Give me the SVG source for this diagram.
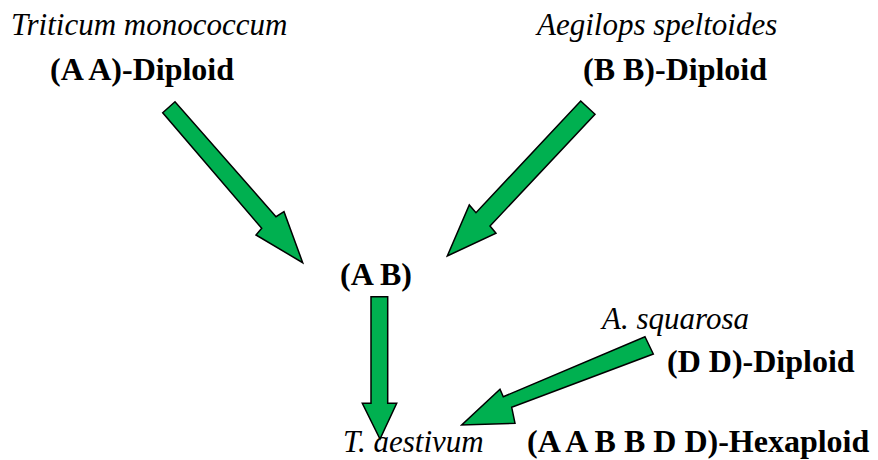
<svg xmlns="http://www.w3.org/2000/svg" width="878" height="460" viewBox="0 0 878 460">
<style>
.i{font-family:"Liberation Serif","Times New Roman",serif;font-style:italic;font-size:31px;fill:#000}
.b{font-family:"Liberation Serif","Times New Roman",serif;font-weight:bold;font-size:32px;fill:#000}
.arr{fill:#00b050;stroke:#000;stroke-width:1.5;stroke-linejoin:miter}
</style>
<rect width="878" height="460" fill="#fff"/>
<g id="node-aa">
<text class="i" x="11" y="35">Triticum monococcum</text>
<text class="b" x="50" y="80">(A A)-Diploid</text>
</g>
<g id="node-bb">
<text class="i" x="537" y="35">Aegilops speltoides</text>
<text class="b" x="583" y="80">(B B)-Diploid</text>
</g>
<g id="node-ab">
<text class="b" x="340" y="285">(A B)</text>
</g>
<g id="node-dd">
<text class="i" x="602" y="329">A. squarosa</text>
<text class="b" x="667" y="372">(D D)-Diploid</text>
</g>
<g id="node-hex">
<text class="i" x="343" y="452">T. aestivum</text>
<text class="b" x="527" y="452">(A A B B D D)-Hexaploid</text>
</g>
<g id="connectors">
<polygon class="arr" points="162.7,112.7 175,101.7 276,216.7 284,211.7 302.7,262.7 256,235 261.7,228.3"/>
<polygon class="arr" points="580.7,101 595,114.3 490,226 496,233.3 447.3,256 469.3,205 476,212.7"/>
<polygon class="arr" points="371,296.7 387.7,296.7 387.7,403.3 396.7,403.3 380,439 362.3,403.3 371,403.3"/>
<polygon class="arr" points="645,336.7 653.3,354 511.7,407.3 515,423.3 461.7,425 500,389.3 503.3,396.7"/>
</g>
</svg>
